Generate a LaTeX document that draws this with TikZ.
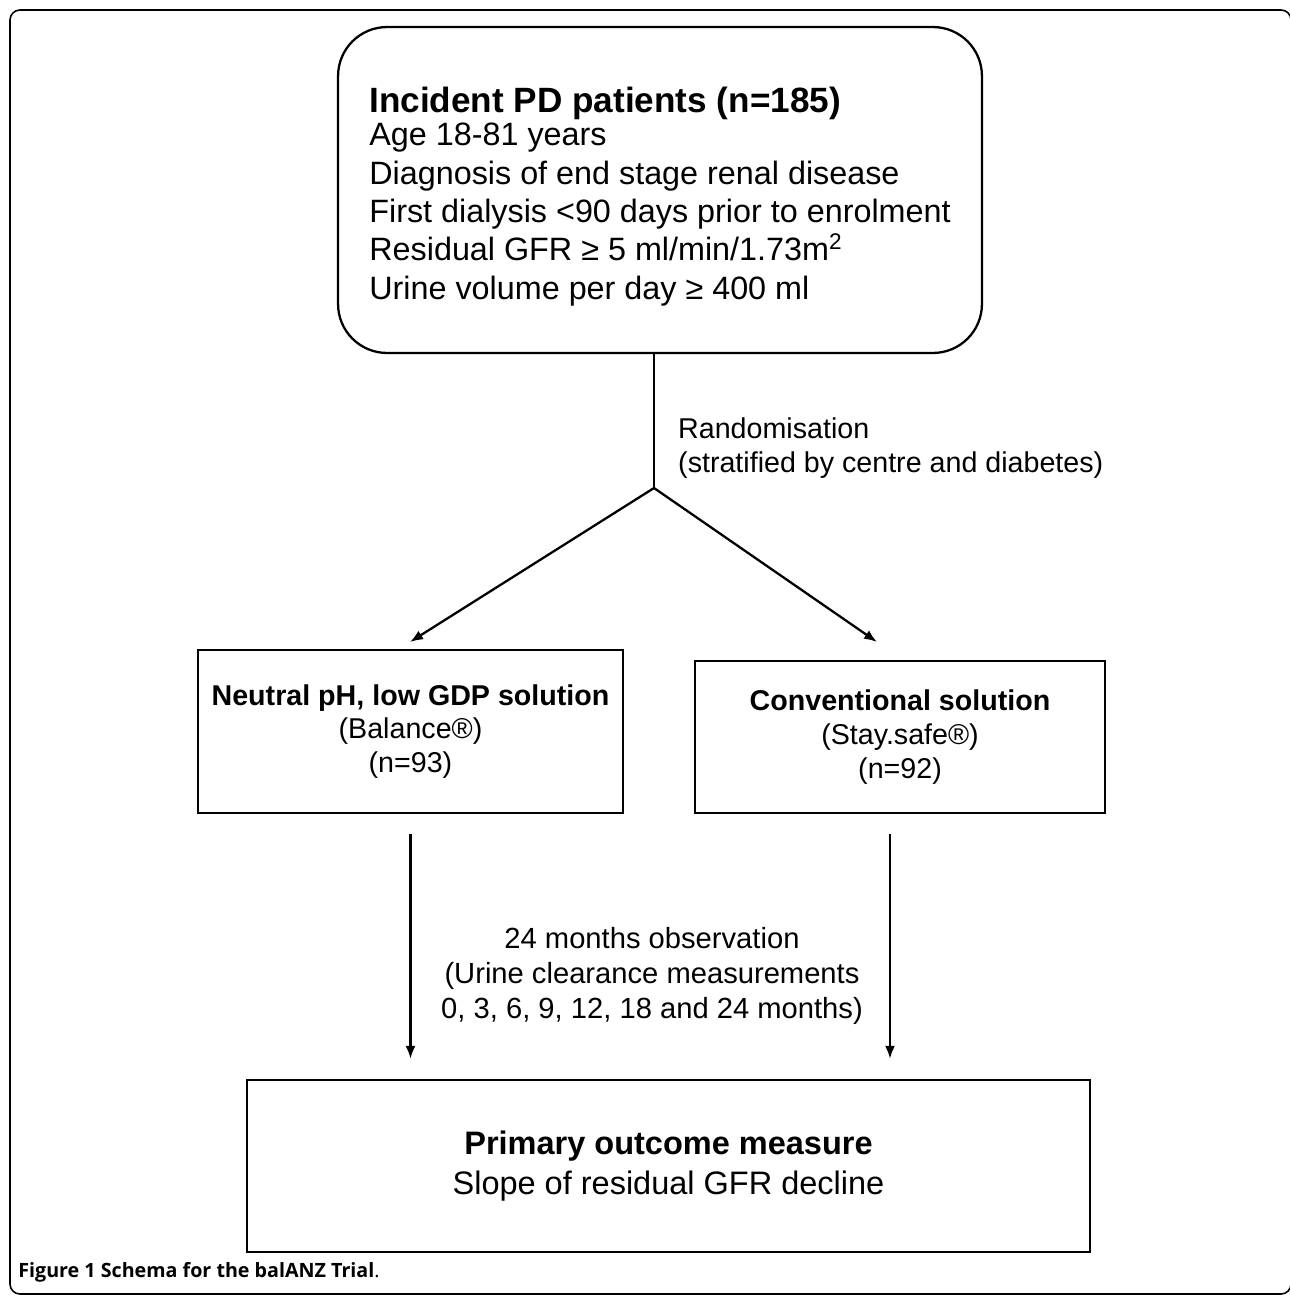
\documentclass[tikz,border=0pt]{standalone}
\usepackage{fontspec}
\setmainfont{Liberation Sans}
\newfontfamily\capfont{Open Sans}
\usetikzlibrary{arrows.meta}

\begin{document}
\begin{tikzpicture}[x=0.02cm, y=-0.02cm]
   \tikzset{Box/.style={draw, line width=1.3pt, align=center, inner sep=0pt}}
   \tikzset{Arr/.style={-{Latex[length=0.26cm,width=0.2cm]}, line width=1.3pt}}
   \useasboundingbox (0,0) rectangle (1290,1298);
   \draw[line width=0.9pt, rounded corners=0.2cm] (10,10) rectangle (1291,1294);

   \node[Box, rounded corners=0.98cm, minimum width=12.88cm, minimum height=6.52cm,
         align=left, font=\fontsize{18.4}{21.8}\selectfont] (Pat) at (660,190)
        {\rule{0pt}{22pt}{\fontsize{20}{22}\selectfont\bfseries Incident PD patients (n=185)}\\[-3pt]
         Age 18-81 years\\
         Diagnosis of end stage renal disease\\
         First dialysis <90 days prior to enrolment\\
         Residual GFR ≥ 5 ml/min/1.73m\textsuperscript{2}\\
         Urine volume per day ≥ 400 ml};

   \coordinate (R) at (654,488);
   \coordinate (TL) at (410,642);
   \coordinate (TR) at (877,642);
   \draw[line width=1.3pt] (Pat.south -| R) -- (R);
   \draw[Arr] (R) -- (TL);
   \draw[Arr] (R) -- (TR);
   \node[anchor=west, align=left, font=\fontsize{16.3}{19.5}\selectfont] (Rand) at (672,448)
        {Randomisation\\(stratified by centre and diabetes)};

   \node[Box, minimum width=8.5cm, minimum height=3.26cm,
         font=\fontsize{16.3}{19.3}\selectfont] (Bal) at (410.5,731.5)
        {\textbf{Neutral pH, low GDP solution}\\(Balance®)\\(n=93)};
   \node[Box, minimum width=8.2cm, minimum height=3.04cm,
         font=\fontsize{16.3}{19.3}\selectfont] (Std) at (900,737)
        {\textbf{Conventional solution}\\(Stay.safe®)\\(n=92)};

   \node[Box, minimum width=16.86cm, minimum height=3.44cm,
         font=\fontsize{18.5}{22.7}\selectfont] (Out) at (668.5,1166)
        {\textbf{Primary outcome measure}\\Slope of residual GFR decline};

   \draw[Arr, shorten <=0.4cm, shorten >=0.4cm] (Bal.south) -- (Bal.south |- Out.north);
   \draw[Arr, shorten <=0.4cm, shorten >=0.4cm] ([xshift=-0.2cm]Std.south) -- ([xshift=-0.2cm]Std.south |- Out.north);
   \node[align=center, font=\fontsize{16.6}{19.7}\selectfont] (Obs) at (652,976)
        {24 months observation\\(Urine clearance measurements\\0, 3, 6, 9, 12, 18 and 24 months)};

   \node[anchor=west, inner sep=0pt, font=\capfont\fontsize{11.2}{13}\selectfont] (Cap) at (18,1272)
        {\textbf{Figure 1 Schema for the balANZ Trial}.};
\end{tikzpicture}
\end{document}
